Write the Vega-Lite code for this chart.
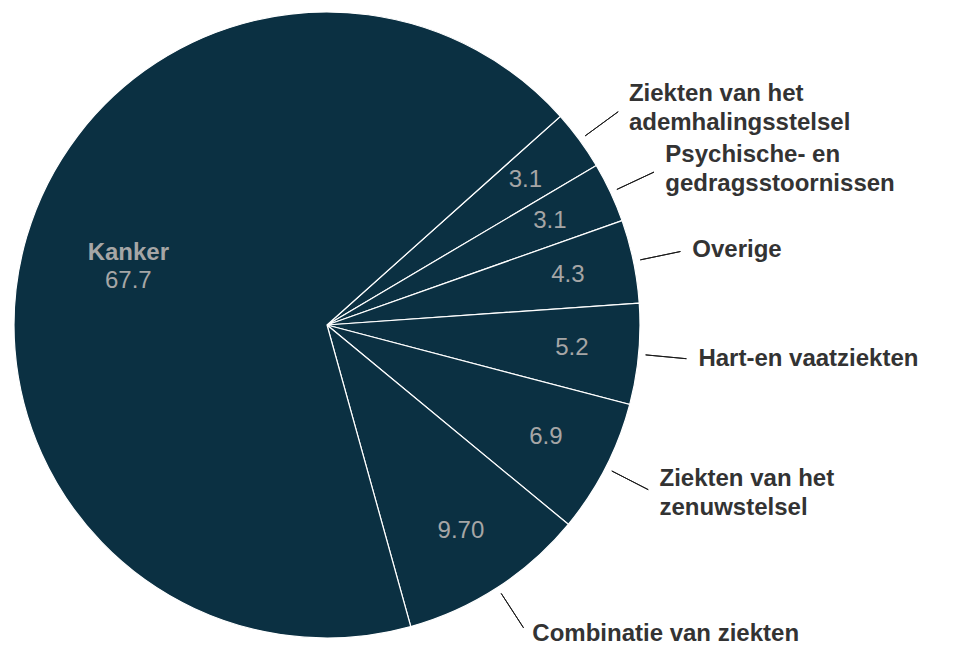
{
  "$schema": "https://vega.github.io/schema/vega-lite/v6.json",
  "autosize": {"type": "none"},
  "width": 654,
  "height": 650,
  "padding": {"left": 0, "top": 0, "right": 314, "bottom": 0},
  "background": "#ffffff",
  "config": {"view": {"stroke": null}, "font": "Liberation Sans"},
  "data": {
    "values": [
      {"rank": 1, "category": "Ziekten van het\nademhalingsstelsel", "value": 3.1, "valueLabel": "3.1"},
      {"rank": 2, "category": "Psychische- en\ngedragsstoornissen", "value": 3.1, "valueLabel": "3.1"},
      {"rank": 3, "category": "Overige", "value": 4.3, "valueLabel": "4.3"},
      {"rank": 4, "category": "Hart-en vaatziekten", "value": 5.2, "valueLabel": "5.2"},
      {"rank": 5, "category": "Ziekten van het\nzenuwstelsel", "value": 6.9, "valueLabel": "6.9"},
      {"rank": 6, "category": "Combinatie van ziekten", "value": 9.7, "valueLabel": "9.70"},
      {"rank": 7, "category": "Kanker", "value": 67.7, "valueLabel": "67.7"}
    ]
  },
  "encoding": {
    "theta": {"field": "value", "type": "quantitative", "stack": true, "scale": {"range": [0.8412, 7.1244]}},
    "order": {"field": "rank", "type": "quantitative", "sort": "ascending"},
    "detail": {"field": "category", "type": "nominal"}
  },
  "layer": [
    {
      "mark": {"type": "arc", "outerRadius": 313, "fill": "#0b3042", "stroke": "#ffffff", "strokeWidth": 1.2}
    },
    {
      "mark": {"type": "arc", "innerRadius": 320, "outerRadius": 361, "padAngle": 1.5, "fill": "#000000", "fillOpacity": 0, "stroke": "#1a1a1a", "strokeWidth": 1},
      "encoding": {
        "strokeOpacity": {"condition": {"test": "datum.category === 'Kanker'", "value": 0}, "value": 1}
      }
    },
    {
      "mark": {"type": "text", "radius": 368, "align": "left", "baseline": "middle", "dx": 5, "fontSize": 24, "fontWeight": "bold", "fill": "#333333", "lineBreak": "\n", "lineHeight": 29},
      "encoding": {
        "text": {"field": "category", "type": "nominal"},
        "opacity": {"condition": {"test": "datum.category === 'Kanker' || indexof(datum.category, '\\n') >= 0", "value": 0}, "value": 1}
      }
    },
    {
      "mark": {"type": "text", "radius": 368, "align": "left", "baseline": "middle", "dx": 5, "dy": -14, "fontSize": 24, "fontWeight": "bold", "fill": "#333333", "lineBreak": "\n", "lineHeight": 29},
      "encoding": {
        "text": {"field": "category", "type": "nominal"},
        "opacity": {"condition": {"test": "indexof(datum.category, '\\n') >= 0", "value": 1}, "value": 0}
      }
    },
    {
      "mark": {"type": "text", "radius": 246, "align": "center", "baseline": "middle", "fontSize": 24, "fill": "#a6a6a6"},
      "encoding": {
        "text": {"field": "valueLabel", "type": "nominal"},
        "opacity": {"condition": {"test": "datum.category === 'Kanker'", "value": 0}, "value": 1}
      }
    },
    {
      "mark": {"type": "text", "radius": 207, "align": "center", "baseline": "middle", "dy": -14, "fontSize": 24, "fontWeight": "bold", "fill": "#a6a6a6"},
      "encoding": {
        "text": {"field": "category", "type": "nominal"},
        "opacity": {"condition": {"test": "datum.category === 'Kanker'", "value": 1}, "value": 0}
      }
    },
    {
      "mark": {"type": "text", "radius": 207, "align": "center", "baseline": "middle", "dy": 14, "fontSize": 24, "fill": "#a6a6a6"},
      "encoding": {
        "text": {"field": "valueLabel", "type": "nominal"},
        "opacity": {"condition": {"test": "datum.category === 'Kanker'", "value": 1}, "value": 0}
      }
    }
  ]
}
